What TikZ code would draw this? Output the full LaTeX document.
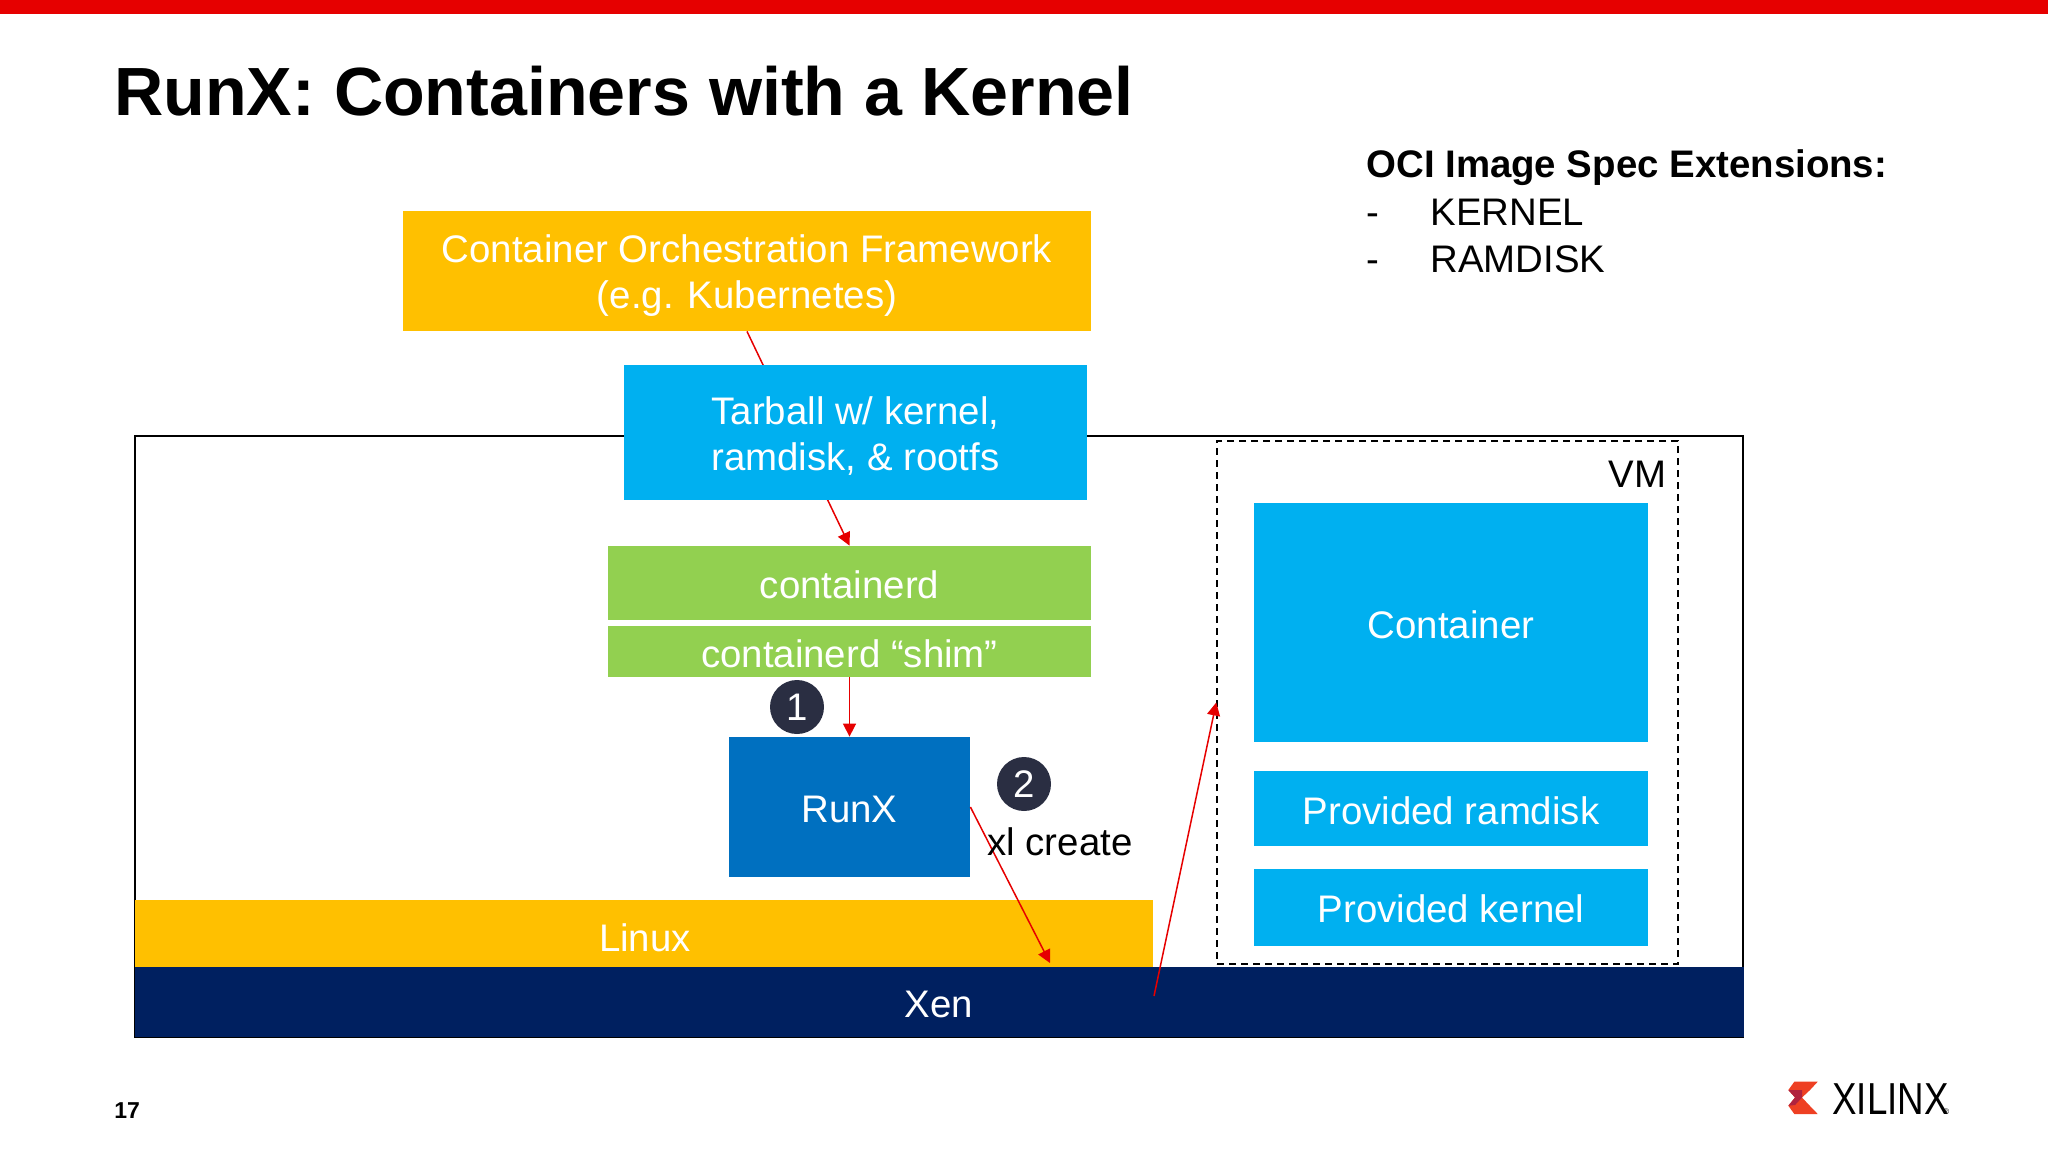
\documentclass[tikz,border=0pt]{standalone}
\usepackage{fontspec}
\setmainfont{Liberation Sans}
\definecolor{xred}{HTML}{E60000}
\definecolor{xorange}{HTML}{FFC000}
\definecolor{xblue}{HTML}{00B0F0}
\definecolor{xgreen}{HTML}{92D050}
\definecolor{xdeep}{HTML}{0070C0}
\definecolor{xnavy}{HTML}{002060}
\definecolor{xdot}{HTML}{2A2E42}
\definecolor{xlogo}{HTML}{EE4023}
\definecolor{xlogodark}{HTML}{B0223F}
\newcommand{\slidefont}{\fontsize{19.2}{23}\selectfont}
\usetikzlibrary{arrows.meta}
\tikzset{
  block/.style={inner sep=0pt, align=center, text=white, font=\slidefont, text height=15.8pt, text depth=0pt},
  plate/.style={inner sep=0pt},
  blockname/.style={inner sep=0pt, align=center, text=white, font=\slidefont},
  step dot/.style={circle, fill=xdot, minimum size=27pt, inner sep=0pt, text=white, font=\slidefont},
  flow/.style={draw=xred, line width=0.75pt, -{Triangle[length=6.5pt,width=6.5pt]}},
  label/.style={inner sep=0pt, anchor=base west}
}
\begin{document}
\begin{tikzpicture}[x=0.5pt, y=-0.5pt]
    \useasboundingbox (0,0) rectangle (2048,1152);
    \fill[xred] (0,0) rectangle (2048,14);
    \node[label, font=\bfseries\fontsize{34.1}{38}\selectfont] (title) at (114,115) {RunX: Containers with a Kernel};

    % outer host box
    \draw[black, line width=0.75pt] (135,436) rectangle (1743,1037);

    % stack
    \node[plate, fill=xorange, minimum width=344pt, minimum height=60pt] (framework) at (747,271) {};
    \node[blockname] (frameworkname) at ([yshift=-2.5pt]framework.center) {Container Orchestration Framework\\(e.g. Kubernetes)};
    \node[block, fill=xgreen, minimum width=241.5pt, minimum height=37pt] (containerd) at (849.5,583) {containerd};
    \node[block, fill=xgreen, minimum width=241.5pt, minimum height=25.5pt] (shim) at (849.5,651.5) {containerd “shim”};
    \node[block, fill=xdeep, minimum width=120.5pt, minimum height=70pt] (runx) at (849.5,807) {RunX};
    \node[plate, fill=xorange, minimum width=509pt, minimum height=33.5pt] (linux) at (644,933.5) {};
    \node[block, fill=xnavy, minimum width=804.5pt, minimum height=35pt] (xen) at (939,1002) {Xen};
    \node[block] (linuxname) at (645,936) {Linux};

    % vm
    \node[draw=black, dash pattern=on 3.5pt off 2.5pt, line width=0.75pt, inner sep=0pt, minimum width=230.5pt, minimum height=261.5pt] (vm) at (1447.5,702.5) {};
    \node[label, font=\slidefont] (vmname) at (1608,487) {VM};
    \node[block, fill=xblue, minimum width=197pt, minimum height=119.5pt] (container) at (1451,622.5) {Container};
    \node[block, fill=xblue, minimum width=197pt, minimum height=37.5pt] (ramdisk) at (1451,808.5) {Provided ramdisk};
    \node[block, fill=xblue, minimum width=197pt, minimum height=38.5pt] (kernel) at (1451,907) {Provided kernel};

    % calls
    \coordinate (xenin) at (1050,963);
    \coordinate (xenout) at (1154,996);
    \draw[flow] (framework.south) -- (containerd.north);
    \node[plate, fill=xblue, minimum width=231.5pt, minimum height=67.5pt] (tarball) at (855.5,432.5) {};
    \node[blockname] (tarballname) at ([yshift=-1.8pt]tarball.center) {Tarball w/ kernel,\\ramdisk, \& rootfs};
    \draw[flow] (shim.south) -- (runx.north);
    \draw[flow] (runx.east) -- (xenin);
    \draw[flow] (xenout) -- (vm.west);

    \node[step dot] (one) at (797,707) {1};
    \node[step dot] (two) at (1024,784) {2};
    \node[label, font=\slidefont] (xlcreate) at (987,855) {xl create};

    % extensions list
    \node[label, font=\bfseries\slidefont] (ociname) at (1366,177) {OCI Image Spec Extensions:};
    \node[label, font=\slidefont] (dashone) at (1366,225) {-};
    \node[label, font=\slidefont] (kernelname) at (1430,225) {KERNEL};
    \node[label, font=\slidefont] (dashtwo) at (1366,272) {-};
    \node[label, font=\slidefont] (ramdiskname) at (1430,272) {RAMDISK};

    \node[label, font=\bfseries\fontsize{11.5}{13}\selectfont] (page) at (114,1118) {17};

    % logo
    \fill[xlogo] (1794.3,1081.7) -- (1817.7,1081.7) -- (1810,1090) -- (1802,1097.5) -- (1810,1106) -- (1817.7,1114) -- (1794.3,1114) -- (1788.3,1105.7) -- (1795,1097.5) -- (1788.3,1090) -- cycle;
    \fill[xlogodark] (1788.3,1090) -- (1802,1090) -- (1802,1097.5) -- (1802,1097.5) -- (1795,1105) -- (1788.3,1105.7) -- (1795,1097.5) -- cycle;
    \node[label, font=\fontsize{22.4}{24}\selectfont, xscale=0.82] (brand) at (1832,1114) {XILINX};
    \node[label, font=\fontsize{4}{5}\selectfont] (brandmark) at (1943,1114) {®};
\end{tikzpicture}
\end{document}
